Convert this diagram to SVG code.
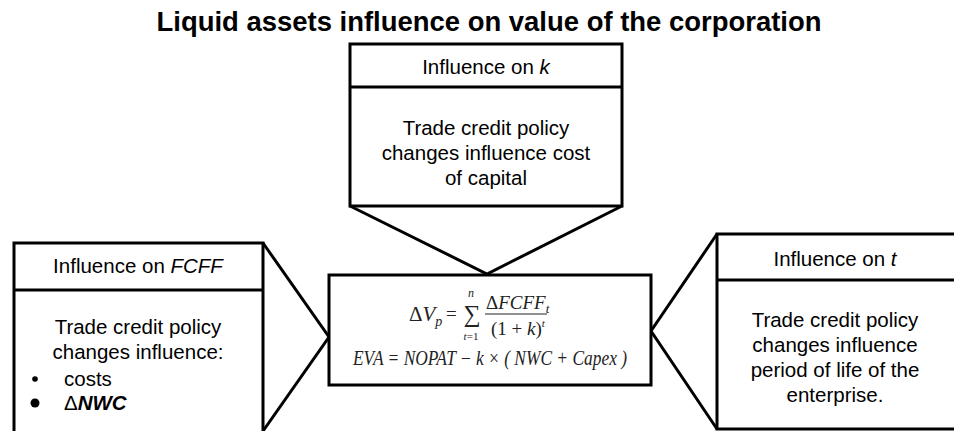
<svg xmlns="http://www.w3.org/2000/svg" width="954" height="431" viewBox="0 0 954 431">
<style>
.box{fill:#fff;stroke:#000;stroke-width:3}
.ln{fill:none;stroke:#000;stroke-width:3;stroke-linejoin:miter}
.t{font-family:"Liberation Sans",Arial,sans-serif;font-size:20.5px;fill:#000}
.c{text-anchor:middle}
.title{font-family:"Liberation Sans",Arial,sans-serif;font-size:27px;font-weight:bold;fill:#000;text-anchor:middle}
.m{font-family:"Liberation Serif","Times New Roman",serif;font-style:italic;fill:#222}
.mu{font-family:"Liberation Serif","Times New Roman",serif;font-style:normal;fill:#222}
</style>
<rect width="954" height="431" fill="#fff"/>
<text class="title" x="489" y="31" textLength="665" lengthAdjust="spacingAndGlyphs">Liquid assets influence on value of the corporation</text>
<g id="connectors">
<polyline class="ln" points="350,206 487,274 622,206"/>
<polyline class="ln" points="263,243 329,337 263,431"/>
<polyline class="ln" points="717,234 651,331 717,429"/>
</g>
<g id="node-k">
<rect class="box" x="350" y="44" width="272" height="162"/>
<line class="ln" x1="350" y1="87" x2="622" y2="87"/>
<text class="t c" x="486" y="74">Influence on <tspan font-style="italic">k</tspan></text>
<text class="t c" x="486" y="135">Trade credit policy</text>
<text class="t c" x="486" y="160">changes influence cost</text>
<text class="t c" x="486" y="185">of capital</text>
</g>
<g id="node-fcff">
<rect class="box" x="14" y="243" width="249" height="200"/>
<line class="ln" x1="14" y1="290" x2="263" y2="290"/>
<text class="t c" x="138" y="273">Influence on <tspan font-style="italic">FCFF</tspan></text>
<text class="t c" x="138" y="334">Trade credit policy</text>
<text class="t c" x="138" y="359">changes influence:</text>
<circle cx="35" cy="379" r="2.8" fill="#000"/>
<text class="t" x="64" y="386">costs</text>
<circle cx="35" cy="403" r="4.5" fill="#000"/>
<text class="t" x="64" y="410">Δ<tspan font-style="italic" font-weight="bold">NWC</tspan></text>
</g>
<g id="node-center">
<rect class="box" x="329" y="275" width="322" height="110"/>
<text class="mu" x="409" y="321" font-size="21">Δ<tspan class="m">V</tspan><tspan class="m" font-size="14" dy="5">p</tspan></text>
<text class="mu" x="446" y="320" font-size="19">=</text>
<text class="mu" x="472" y="322" font-size="24" text-anchor="middle">∑</text>
<text class="m" x="471" y="297" font-size="12" text-anchor="middle">n</text>
<text class="m" x="471" y="340" font-size="11" text-anchor="middle">t<tspan class="mu">=1</tspan></text>
<text class="mu" x="486" y="309" font-size="19">Δ<tspan class="m">FCFF</tspan><tspan class="m" font-size="13" dy="4">t</tspan></text>
<line x1="485" y1="314" x2="547" y2="314" stroke="#222" stroke-width="1"/>
<text class="mu" x="491" y="335" font-size="19">(1 + <tspan class="m">k</tspan>)<tspan class="m" font-size="11" dy="-8">t</tspan></text>
<text class="m" x="353" y="365" font-size="20" textLength="274" lengthAdjust="spacingAndGlyphs">EVA = NOPAT − k × ( NWC + Capex )</text>
</g>
<g id="node-t">
<rect class="box" x="717" y="234" width="240" height="195"/>
<line class="ln" x1="717" y1="280" x2="957" y2="280"/>
<text class="t c" x="835" y="266">Influence on <tspan font-style="italic">t</tspan></text>
<text class="t c" x="835" y="327">Trade credit policy</text>
<text class="t c" x="835" y="352">changes influence</text>
<text class="t c" x="835" y="377">period of life of  the</text>
<text class="t c" x="835" y="402">enterprise.</text>
</g>
</svg>
